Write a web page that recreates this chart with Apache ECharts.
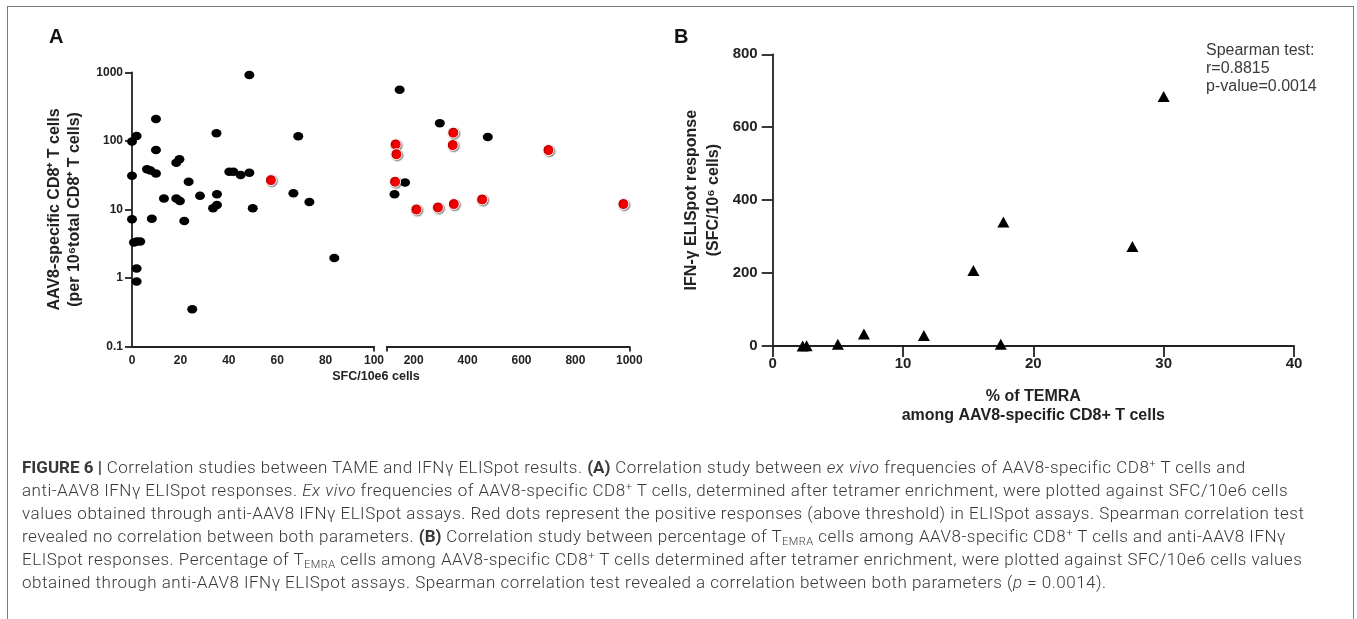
<!DOCTYPE html>
<html><head><meta charset="utf-8">
<script src="https://cdn.jsdelivr.net/npm/echarts@6/dist/echarts.min.js"></script>
<style>
html,body{margin:0;padding:0;background:#fff;width:1357px;height:619px;overflow:hidden;}
#chart{position:absolute;left:0;top:0;width:1357px;height:619px;}
#frame{position:absolute;left:7px;top:6px;width:1345px;height:640px;border:1.5px solid #7a7a7a;border-bottom:none;pointer-events:none;}
.cap{position:absolute;left:22px;white-space:nowrap;font-family:Roboto,'Liberation Sans',sans-serif;font-weight:300;font-size:17px;letter-spacing:0.5px;color:#383838;line-height:20px;}
.cap b{font-weight:700;letter-spacing:0;}
.cap sup{font-size:11px;vertical-align:6px;line-height:0;}
.cap sub{font-size:11px;vertical-align:-3px;line-height:0;}
</style></head>
<body>
<div id="chart"></div>
<div id="frame"></div>
<div class="cap" style="top:457px"><b>FIGURE 6 |</b> Correlation studies between TAME and IFNγ ELISpot results. <b>(A)</b> Correlation study between <i>ex vivo</i> frequencies of AAV8-specific CD8<sup>+</sup> T cells and</div>
<div class="cap" style="top:480px">anti-AAV8 IFNγ ELISpot responses. <i>Ex vivo</i> frequencies of AAV8-specific CD8<sup>+</sup> T cells, determined after tetramer enrichment, were plotted against SFC/10e6 cells</div>
<div class="cap" style="top:503px">values obtained through anti-AAV8 IFNγ ELISpot assays. Red dots represent the positive responses (above threshold) in ELISpot assays. Spearman correlation test</div>
<div class="cap" style="top:526px">revealed no correlation between both parameters. <b>(B)</b> Correlation study between percentage of T<sub>EMRA</sub> cells among AAV8-specific CD8<sup>+</sup> T cells and anti-AAV8 IFNγ</div>
<div class="cap" style="top:549px">ELISpot responses. Percentage of T<sub>EMRA</sub> cells among AAV8-specific CD8<sup>+</sup> T cells determined after tetramer enrichment, were plotted against SFC/10e6 cells values</div>
<div class="cap" style="top:572px">obtained through anti-AAV8 IFNγ ELISpot assays. Spearman correlation test revealed a correlation between both parameters (<i>p</i> = 0.0014).</div>
<script>
// ---------- Panel A data: [SFC/10e6 cells, AAV8-specific CD8+ T cells per 10^6] ----------
const blackDots = [
  [48.5, 916], [9.9, 209], [1.9, 118], [0, 98], [34.9, 129], [68.7, 117],
  [9.9, 74], [18.3, 48], [19.6, 54], [6.2, 38.5], [7.6, 37], [9.9, 33.5],
  [0, 31], [40.2, 35.5], [41.9, 35.5], [44.9, 31.8], [48.5, 34.4],
  [23.4, 25.4], [13.2, 14.5], [18.3, 14.5], [19.8, 13.3], [28.1, 15.8],
  [35.1, 16.6], [35.1, 11.6], [33.5, 10.4], [49.9, 10.4], [66.7, 17.3],
  [73.3, 12.8], [0, 7.2], [8.2, 7.3], [21.6, 6.8], [0.8, 3.3], [2.0, 3.4],
  [3.4, 3.4], [1.9, 1.38], [1.9, 0.89], [24.9, 0.35], [83.6, 1.96],
  [148, 559], [297, 181], [475, 114], [168, 24.8], [129, 16.6]
];
const redDots = [
  [57.4, 26.8], [133, 89], [136, 64], [345, 87], [347, 132], [700, 73.6],
  [131, 25.4], [210, 10.0], [290, 10.7], [349, 12.0], [454, 14.0], [978, 12.0]
];
const breakAt = 100;
const aXLeftTicks = [0, 20, 40, 60, 80, 100];
const aXRightTicks = [200, 400, 600, 800, 1000];
const aYTicks = [0.1, 1, 10, 100, 1000];

// ---------- Panel B data ----------
const temraPct = [2.3, 2.6, 5.0, 7.0, 11.6, 15.4, 17.5, 17.7, 27.6, 30.0];
const ifnResponse = [0, 1, 5, 33, 29, 207, 5, 340, 273, 684];
const bXTicks = [0, 10, 20, 30, 40];
const bYTicks = [0, 200, 400, 600, 800];
const spearmanLines = ['Spearman test:', 'r=0.8815', 'p-value=0.0014'];

const FONT = "'Liberation Sans', Arial, sans-serif";
const AX = '#222';
const chart = echarts.init(document.getElementById('chart'), null, {renderer: 'canvas'});

const leftBlack = blackDots.filter(d => d[0] <= breakAt);
const rightBlack = blackDots.filter(d => d[0] > breakAt);
const leftRed = redDots.filter(d => d[0] <= breakAt);
const rightRed = redDots.filter(d => d[0] > breakAt);

const redStyle = {color: '#f20000', opacity: 1, borderColor: '#ffffff', borderWidth: 1, shadowColor: 'rgba(0,0,0,0.45)', shadowBlur: 1.5, shadowOffsetX: 1, shadowOffsetY: 1};
const blackStyle = {color: '#000', opacity: 1};
const axisLineStyle = {show: true, lineStyle: {color: AX, width: 1.8}};

function fmtLog(v) { return String(Number(v.toPrecision(3))); }
function fmtPlain(v) { return String(v); }

const option = {
  animation: false,
  backgroundColor: 'transparent',
  textStyle: {fontFamily: FONT},
  grid: [
    {left: 132, top: 72.4, width: 242, height: 274.1, containLabel: false, outerBoundsMode: 'none'},
    {left: 386.7, top: 72.4, width: 242.6, height: 274.1, containLabel: false, outerBoundsMode: 'none'},
    {left: 772.7, top: 54.3, width: 521.3, height: 291.7, containLabel: false, outerBoundsMode: 'none'}
  ],
  xAxis: [
    {gridIndex: 0, type: 'value', min: aXLeftTicks[0], max: aXLeftTicks[aXLeftTicks.length - 1], interval: 20,
     axisLine: axisLineStyle, splitLine: {show: false},
     axisTick: {show: true, customValues: [breakAt], length: 5, lineStyle: {color: AX, width: 1.8}},
     axisLabel: {customValues: aXLeftTicks, formatter: fmtPlain, fontSize: 12, fontWeight: 'bold', color: AX, margin: 8, fontFamily: FONT}},
    {gridIndex: 1, type: 'value', min: breakAt, max: 1000,
     axisLine: axisLineStyle, splitLine: {show: false},
     axisTick: {show: true, customValues: [breakAt, 1000], length: 5, lineStyle: {color: AX, width: 1.8}},
     axisLabel: {customValues: aXRightTicks, formatter: fmtPlain, fontSize: 12, fontWeight: 'bold', color: AX, margin: 8, fontFamily: FONT}},
    {gridIndex: 2, type: 'value', min: 0, max: 40, interval: 10,
     axisLine: axisLineStyle, splitLine: {show: false},
     axisTick: {show: true, length: 11, lineStyle: {color: AX, width: 1.8}},
     axisLabel: {customValues: bXTicks, formatter: fmtPlain, fontSize: 15, fontWeight: 'bold', color: AX, margin: 10, fontFamily: FONT},
     name: '% of TEMRA\namong AAV8-specific CD8+ T cells', nameLocation: 'middle', nameGap: 41,
     nameTextStyle: {fontSize: 16, fontWeight: 'bold', color: AX, lineHeight: 19, fontFamily: FONT}}
  ],
  yAxis: [
    {gridIndex: 0, type: 'log', logBase: 10, min: aYTicks[0], max: aYTicks[aYTicks.length - 1],
     axisLine: axisLineStyle, splitLine: {show: false}, minorTick: {show: false},
     axisTick: {show: true, length: 7, lineStyle: {color: AX, width: 1.8}},
     axisLabel: {fontSize: 12, fontWeight: 'bold', color: AX, margin: 9, formatter: fmtLog, fontFamily: FONT},
     name: 'AAV8-specific CD8\u207A T cells\n(per 10\u2076total CD8\u207A T cells)', nameLocation: 'middle', nameRotate: 90, nameGap: 47,
     nameTextStyle: {fontSize: 16, fontWeight: 'bold', color: AX, lineHeight: 20, fontFamily: FONT}},
    {gridIndex: 1, type: 'log', logBase: 10, min: aYTicks[0], max: aYTicks[aYTicks.length - 1], show: false},
    {gridIndex: 2, type: 'value', min: 0, max: 800, interval: 200,
     axisLine: axisLineStyle, splitLine: {show: false},
     axisTick: {show: true, length: 11, lineStyle: {color: AX, width: 1.8}},
     axisLabel: {customValues: bYTicks, formatter: fmtPlain, fontSize: 15, fontWeight: 'bold', color: AX, margin: 15, fontFamily: FONT},
     name: 'IFN-\u03B3 ELISpot response\n(SFC/10\u2076 cells)', nameLocation: 'middle', nameRotate: 90, nameGap: 48,
     nameTextStyle: {fontSize: 16, fontWeight: 'bold', color: AX, lineHeight: 22, fontFamily: FONT}}
  ],
  series: [
    {type: 'scatter', xAxisIndex: 0, yAxisIndex: 0, data: leftBlack, symbolSize: [10, 8.5], itemStyle: blackStyle, clip: false, z: 2},
    {type: 'scatter', xAxisIndex: 0, yAxisIndex: 0, data: leftRed, symbolSize: 11, itemStyle: redStyle, clip: false, z: 3},
    {type: 'scatter', xAxisIndex: 1, yAxisIndex: 1, data: rightBlack, symbolSize: [10, 8.5], itemStyle: blackStyle, clip: false, z: 2},
    {type: 'scatter', xAxisIndex: 1, yAxisIndex: 1, data: rightRed, symbolSize: 11, itemStyle: redStyle, clip: false, z: 3},
    {type: 'scatter', xAxisIndex: 2, yAxisIndex: 2, data: temraPct.map((x, i) => [x, ifnResponse[i]]),
     symbol: 'triangle', symbolSize: [12, 11], itemStyle: {color: '#000', opacity: 1}, clip: false}
  ],
  graphic: [
    {type: 'text', x: 49, y: 27, style: {text: 'A', fontSize: 20, fontWeight: 'bold', fontFamily: FONT, fill: '#111'}},
    {type: 'text', x: 674, y: 27, style: {text: 'B', fontSize: 20, fontWeight: 'bold', fontFamily: FONT, fill: '#111'}},
    {type: 'text', x: 376, y: 377, style: {text: 'SFC/10e6 cells', fontSize: 12.5, fontWeight: 'bold', fontFamily: FONT, fill: AX, align: 'center', verticalAlign: 'middle'}},
    {type: 'text', x: 1206, y: 42, style: {text: spearmanLines.join('\n'), fontSize: 16, lineHeight: 18, fontFamily: FONT, fill: '#3a3a3a'}}
  ]
};
chart.setOption(option);
</script>
</body></html>
